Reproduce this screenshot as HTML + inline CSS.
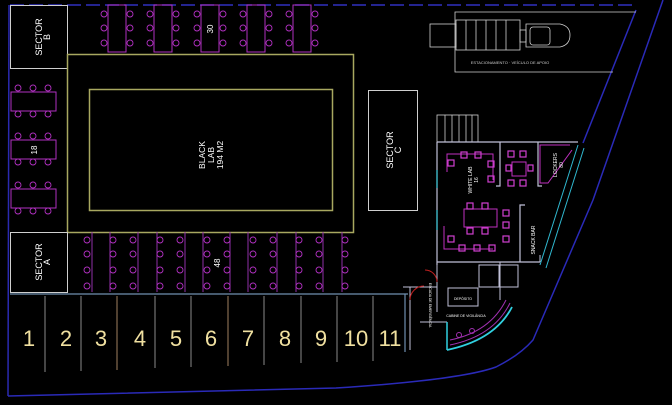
<!DOCTYPE html>
<html><head><meta charset="utf-8"><style>
html,body{margin:0;padding:0;background:#000;}
svg{display:block;}
text{font-family:"Liberation Sans",sans-serif;}
</style></head><body>
<svg width="672" height="405" viewBox="0 0 672 405" xmlns="http://www.w3.org/2000/svg">
<rect width="672" height="405" fill="#000"/>
<!-- boundary -->
<line x1="10" y1="5" x2="636" y2="5" stroke="#3030c0" stroke-width="1.5" stroke-dasharray="14 5"/>
<line x1="9" y1="5" x2="8" y2="396" stroke="#2a2ab0" stroke-width="1.5"/>
<path d="M8 396 L336 388 Q460 380 496 367 Q520 355 533 340 L593 200 L663 0" fill="none" stroke="#2a2ab8" stroke-width="1.5"/>
<path d="M636 10 L583 143" fill="none" stroke="#2a2ab8" stroke-width="1.5"/>
<!-- Sector B -->
<rect x="10.5" y="5.5" width="57" height="63" fill="none" stroke="#cfcfcf"/>
<text transform="translate(42,37) rotate(-90)" fill="#fff" font-size="9" text-anchor="middle">SECTOR</text>
<text transform="translate(50,37) rotate(-90)" fill="#fff" font-size="9" text-anchor="middle">B</text>
<!-- left tables -->
<g stroke="#b030c0" fill="none">
<rect x="11" y="92" width="45" height="19"/><rect x="11" y="140" width="45" height="19"/><rect x="11" y="189" width="45" height="19"/>
<g stroke-width="0.9">
<circle cx="18" cy="88" r="3"/><circle cx="33" cy="88" r="3"/><circle cx="48" cy="88" r="3"/>
<circle cx="18" cy="114" r="3"/><circle cx="33" cy="114" r="3"/><circle cx="48" cy="114" r="3"/>
<circle cx="18" cy="136" r="3"/><circle cx="33" cy="136" r="3"/><circle cx="48" cy="136" r="3"/>
<circle cx="18" cy="162" r="3"/><circle cx="33" cy="162" r="3"/><circle cx="48" cy="162" r="3"/>
<circle cx="18" cy="185" r="3"/><circle cx="33" cy="185" r="3"/><circle cx="48" cy="185" r="3"/>
<circle cx="18" cy="211" r="3"/><circle cx="33" cy="211" r="3"/><circle cx="48" cy="211" r="3"/>
</g></g>
<text transform="translate(37,150) rotate(-90)" fill="#fff" font-size="8" text-anchor="middle">18</text>
<!-- top tables -->
<g stroke="#b030c0" fill="none">
<rect x="108" y="5" width="18" height="47"/><rect x="154" y="5" width="18" height="47"/><rect x="201" y="5" width="18" height="47"/><rect x="247" y="5" width="18" height="47"/><rect x="293" y="5" width="18" height="47"/>
<g stroke-width="0.9">
<circle cx="104" cy="14" r="3"/><circle cx="104" cy="28" r="3"/><circle cx="104" cy="43" r="3"/>
<circle cx="130" cy="14" r="3"/><circle cx="130" cy="28" r="3"/><circle cx="130" cy="43" r="3"/>
<circle cx="150" cy="14" r="3"/><circle cx="150" cy="28" r="3"/><circle cx="150" cy="43" r="3"/>
<circle cx="176" cy="14" r="3"/><circle cx="176" cy="28" r="3"/><circle cx="176" cy="43" r="3"/>
<circle cx="197" cy="14" r="3"/><circle cx="197" cy="28" r="3"/><circle cx="197" cy="43" r="3"/>
<circle cx="223" cy="14" r="3"/><circle cx="223" cy="28" r="3"/><circle cx="223" cy="43" r="3"/>
<circle cx="243" cy="14" r="3"/><circle cx="243" cy="28" r="3"/><circle cx="243" cy="43" r="3"/>
<circle cx="269" cy="14" r="3"/><circle cx="269" cy="28" r="3"/><circle cx="269" cy="43" r="3"/>
<circle cx="289" cy="14" r="3"/><circle cx="289" cy="28" r="3"/><circle cx="289" cy="43" r="3"/>
<circle cx="315" cy="14" r="3"/><circle cx="315" cy="28" r="3"/><circle cx="315" cy="43" r="3"/>
</g></g>
<text transform="translate(213,29) rotate(-90)" fill="#fff" font-size="8" text-anchor="middle">30</text>
<!-- black lab -->
<rect x="67.5" y="54.5" width="286" height="178" fill="none" stroke="#a8a860" stroke-width="1.5"/>
<rect x="89.5" y="89.5" width="243" height="121" fill="none" stroke="#a8a860" stroke-width="1.5"/>
<text transform="translate(211,155) rotate(-90)" fill="#fff" font-size="8.5" text-anchor="middle"><tspan x="0" dy="-6">BLACK</tspan><tspan x="0" dy="9">LAB</tspan><tspan x="0" dy="9">194 M2</tspan></text>
<!-- Sector A -->
<rect x="10.5" y="232.5" width="57" height="60" fill="none" stroke="#cfcfcf"/>
<text transform="translate(42,262) rotate(-90)" fill="#fff" font-size="9" text-anchor="middle">SECTOR</text>
<text transform="translate(50,262) rotate(-90)" fill="#fff" font-size="9" text-anchor="middle">A</text>
<!-- bottom tables -->
<g stroke="#9030a8" fill="none">
<line x1="92" y1="232" x2="92" y2="292"/><line x1="110" y1="232" x2="110" y2="292"/><line x1="138" y1="232" x2="138" y2="292"/><line x1="157" y1="232" x2="157" y2="292"/><line x1="185" y1="232" x2="185" y2="292"/><line x1="203" y1="232" x2="203" y2="292"/><line x1="230" y1="232" x2="230" y2="292"/><line x1="248" y1="232" x2="248" y2="292"/><line x1="277" y1="232" x2="277" y2="292"/><line x1="296" y1="232" x2="296" y2="292"/><line x1="323" y1="232" x2="323" y2="292"/><line x1="342" y1="232" x2="342" y2="292"/>
<g stroke="#b030c0" stroke-width="0.9" id="c4">
<circle cx="87" cy="240" r="3"/><circle cx="87" cy="254" r="3"/><circle cx="87" cy="270" r="3"/><circle cx="87" cy="286" r="3"/>
<circle cx="113" cy="240" r="3"/><circle cx="113" cy="254" r="3"/><circle cx="113" cy="270" r="3"/><circle cx="113" cy="286" r="3"/>
<circle cx="133" cy="240" r="3"/><circle cx="133" cy="254" r="3"/><circle cx="133" cy="270" r="3"/><circle cx="133" cy="286" r="3"/>
<circle cx="160" cy="240" r="3"/><circle cx="160" cy="254" r="3"/><circle cx="160" cy="270" r="3"/><circle cx="160" cy="286" r="3"/>
<circle cx="180" cy="240" r="3"/><circle cx="180" cy="254" r="3"/><circle cx="180" cy="270" r="3"/><circle cx="180" cy="286" r="3"/>
<circle cx="207" cy="240" r="3"/><circle cx="207" cy="254" r="3"/><circle cx="207" cy="270" r="3"/><circle cx="207" cy="286" r="3"/>
<circle cx="227" cy="240" r="3"/><circle cx="227" cy="254" r="3"/><circle cx="227" cy="270" r="3"/><circle cx="227" cy="286" r="3"/>
<circle cx="253" cy="240" r="3"/><circle cx="253" cy="254" r="3"/><circle cx="253" cy="270" r="3"/><circle cx="253" cy="286" r="3"/>
<circle cx="273" cy="240" r="3"/><circle cx="273" cy="254" r="3"/><circle cx="273" cy="270" r="3"/><circle cx="273" cy="286" r="3"/>
<circle cx="299" cy="240" r="3"/><circle cx="299" cy="254" r="3"/><circle cx="299" cy="270" r="3"/><circle cx="299" cy="286" r="3"/>
<circle cx="319" cy="240" r="3"/><circle cx="319" cy="254" r="3"/><circle cx="319" cy="270" r="3"/><circle cx="319" cy="286" r="3"/>
<circle cx="345" cy="240" r="3"/><circle cx="345" cy="254" r="3"/><circle cx="345" cy="270" r="3"/><circle cx="345" cy="286" r="3"/>
</g></g>
<text transform="translate(220,263) rotate(-90)" fill="#fff" font-size="8" text-anchor="middle">48</text>
<!-- parking -->
<line x1="10" y1="294" x2="408" y2="294" stroke="#7090b0" stroke-width="1.2"/>
<g stroke="#8a8a8a" stroke-width="1">
<line x1="45" y1="296" x2="45" y2="372"/><line x1="81" y1="296" x2="81" y2="371"/><line x1="117" y1="296" x2="117" y2="370"/><line x1="155" y1="296" x2="155" y2="368"/><line x1="191" y1="296" x2="191" y2="367"/><line x1="228" y1="296" x2="228" y2="366"/><line x1="264" y1="296" x2="264" y2="365"/><line x1="301" y1="296" x2="301" y2="363"/><line x1="337" y1="296" x2="337" y2="362"/><line x1="373" y1="296" x2="373" y2="361"/>
</g>
<line x1="117" y1="296" x2="117" y2="370" stroke="#a08060"/><line x1="228" y1="296" x2="228" y2="366" stroke="#a08060"/>
<line x1="405" y1="294" x2="405" y2="352" stroke="#7090b0" stroke-width="1.2"/>
<g fill="#f0e0a0" font-size="22" text-anchor="middle">
<text x="29" y="346">1</text><text x="66" y="346">2</text><text x="101" y="346">3</text><text x="140" y="346">4</text><text x="176" y="346">5</text><text x="211" y="346">6</text><text x="248" y="346">7</text><text x="285" y="346">8</text><text x="321" y="346">9</text><text x="356" y="346">10</text><text x="390" y="346">11</text>
</g>
<!-- Sector C -->
<rect x="368.5" y="90.5" width="49" height="120" fill="none" stroke="#cfcfcf"/>
<text transform="translate(393,150) rotate(-90)" fill="#fff" font-size="9" text-anchor="middle">SECTOR</text>
<text transform="translate(401,150) rotate(-90)" fill="#fff" font-size="9" text-anchor="middle">C</text>
<!-- truck -->
<g stroke="#d0d0d0" fill="none" stroke-width="0.8">
<polyline points="636,12 455,12 455,72 613,72"/>
<rect x="430" y="24" width="26" height="23"/>
<rect x="456" y="20" width="64" height="30"/>
<line x1="466" y1="20" x2="466" y2="50"/><line x1="476" y1="20" x2="476" y2="50"/><line x1="486" y1="20" x2="486" y2="50"/><line x1="496" y1="20" x2="496" y2="50"/><line x1="506" y1="20" x2="506" y2="50"/>
<rect x="520" y="30" width="6" height="12"/>
<path d="M526 24 L560 24 Q570 26 570 35 Q570 45 560 47 L526 47 Z"/>
<rect x="530" y="27" width="20" height="18" rx="3"/>
</g>
<text x="510" y="64" fill="#ccc" font-size="4" text-anchor="middle">ESTACIONAMENTO · VEÍCULO DE APOIO</text>
<!-- white lab building -->
<g stroke="#d0d0d0" fill="none" stroke-width="0.8">
<rect x="437" y="115" width="41" height="27"/>
<line x1="445" y1="115" x2="445" y2="142"/><line x1="452" y1="115" x2="452" y2="142"/><line x1="459" y1="115" x2="459" y2="142"/><line x1="466" y1="115" x2="466" y2="142"/><line x1="472" y1="115" x2="472" y2="142"/>
</g>
<g stroke="#c0c0d8" fill="none" stroke-width="1.2">
<line x1="437" y1="142" x2="578" y2="142"/>
<line x1="437" y1="142" x2="437" y2="265"/>
<polyline points="500,142 500,186 496,186"/>
<polyline points="538,142 538,186 542,186"/>
<polyline points="520,262 520,205 525,205"/>
<line x1="437" y1="262" x2="540" y2="262"/>
</g>
<line x1="437" y1="170" x2="437" y2="188" stroke="#30c0d0" stroke-width="1.2"/>
<line x1="437" y1="210" x2="437" y2="230" stroke="#30c0d0" stroke-width="1.2"/>
<path d="M578 145 L540 265 M584 148 L546 268" stroke="#30b8d0" stroke-width="1" fill="none"/>
<g stroke="#c030c0" fill="none" stroke-width="1">
<polyline points="447,172 447,154 493,154 493,180"/>
<polyline points="444,226 444,249 493,249"/>
<rect x="464" y="209" width="33" height="18"/>
<path d="M570 145 L540 145 L540 183 L548 183 L572 150"/>
<rect x="512" y="162" width="14" height="14"/>
</g>
<g fill="none" stroke="#d040d0" stroke-width="1.2">
<rect x="461" y="152" width="6" height="6"/><rect x="475" y="152" width="6" height="6"/><rect x="448" y="160" width="6" height="6"/><rect x="488" y="161" width="6" height="6"/><rect x="488" y="176" width="6" height="6"/>
<rect x="508" y="151" width="6" height="6"/><rect x="520" y="151" width="6" height="6"/><rect x="508" y="180" width="6" height="6"/><rect x="520" y="180" width="6" height="6"/><rect x="506" y="165" width="5" height="6"/><rect x="528" y="165" width="5" height="6"/>
<rect x="467" y="203" width="6" height="6"/><rect x="482" y="203" width="6" height="6"/><rect x="467" y="228" width="6" height="6"/><rect x="482" y="228" width="6" height="6"/>
<rect x="503" y="210" width="6" height="6"/><rect x="503" y="222" width="6" height="6"/><rect x="503" y="236" width="6" height="6"/><rect x="448" y="236" width="6" height="6"/><rect x="459" y="245" width="6" height="6"/><rect x="474" y="245" width="6" height="6"/><rect x="489" y="245" width="6" height="6"/>
</g>
<text transform="translate(472,180) rotate(-90)" fill="#fff" font-size="5" text-anchor="middle"><tspan x="0">WHITE LAB</tspan><tspan x="0" dy="6">16</tspan></text>
<text transform="translate(557,165) rotate(-90)" fill="#fff" font-size="5" text-anchor="middle"><tspan x="0">LOCKERS</tspan><tspan x="0" dy="6">80</tspan></text>
<text transform="translate(535,240) rotate(-90)" fill="#fff" font-size="5" text-anchor="middle">SNACK BAR</text>
<!-- toilets area -->
<g stroke="#c0c0d8" fill="none" stroke-width="1">
<line x1="500" y1="262" x2="500" y2="300"/><line x1="540" y1="262" x2="540" y2="255"/>
<polyline points="410,287 410,350"/>
<line x1="403" y1="287" x2="437" y2="287"/>
<line x1="437" y1="265" x2="437" y2="312"/>
<rect x="448" y="288" width="30" height="18"/>
<rect x="479" y="265" width="20" height="22"/>
<rect x="500" y="265" width="18" height="22"/>
<line x1="420" y1="322" x2="447" y2="322"/>
</g>
<path d="M410 300 A14 14 0 0 1 424 286" stroke="#c02020" fill="none"/>
<path d="M437 282 A12 12 0 0 0 425 270" stroke="#c02020" fill="none"/>
<line x1="447" y1="322" x2="447" y2="350" stroke="#30d0e0" stroke-width="1.5"/>
<path d="M447 350 Q495 340 512 307" stroke="#30d0e0" stroke-width="1.8" fill="none"/>
<path d="M450 340 Q490 332 506 300 M450 345 Q494 336 510 303" stroke="#a030b0" fill="none"/>
<circle cx="459" cy="335" r="2.5" stroke="#a030b0" fill="none"/><circle cx="472" cy="331" r="2.5" stroke="#a030b0" fill="none"/>
<text transform="translate(429,305) rotate(90)" fill="#fff" font-size="3.5" text-anchor="middle">ESCADA DE EMERGÊNCIA</text>
<text x="463" y="300" fill="#fff" font-size="3.5" text-anchor="middle">DEPÓSITO</text>
<text x="466" y="317" fill="#fff" font-size="3.5" text-anchor="middle">CABINE DE VIGILÂNCIA</text>
</svg>
</body></html>
